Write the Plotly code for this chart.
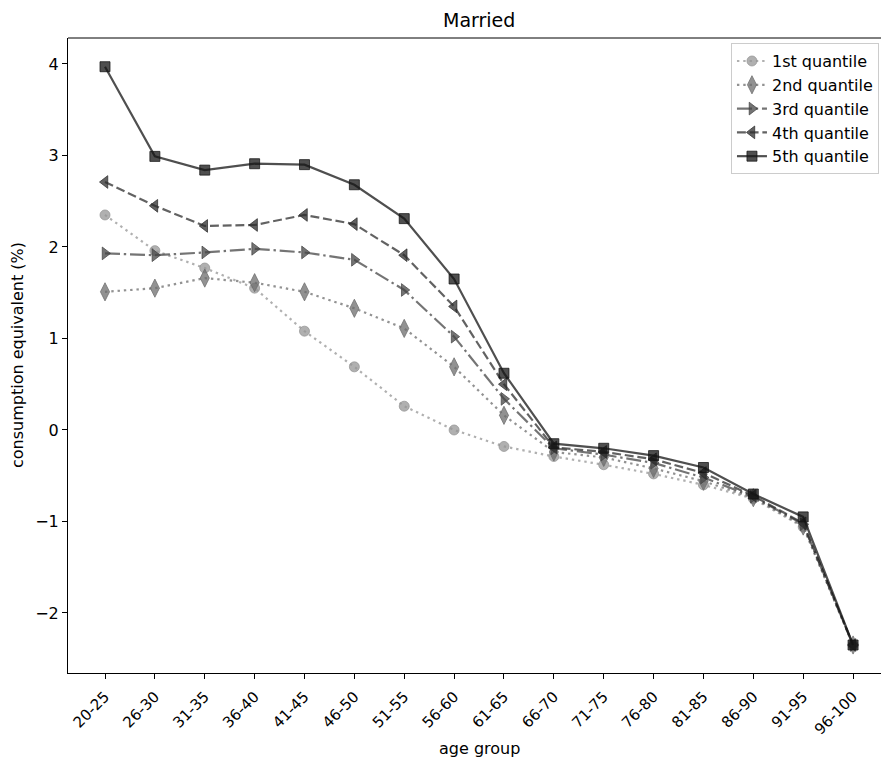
import plotly.graph_objects as go

# Age groups on the x axis
age_groups = ["20-25", "26-30", "31-35", "36-40", "41-45", "46-50", "51-55", "56-60",
              "61-65", "66-70", "71-75", "76-80", "81-85", "86-90", "91-95", "96-100"]

# Consumption equivalent (%) by income quantile
q1 = [2.35, 1.96, 1.77, 1.55, 1.08, 0.69, 0.26, 0.00, -0.18, -0.29, -0.38, -0.48, -0.60, -0.75, -1.06, -2.35]
q2 = [1.51, 1.55, 1.66, 1.61, 1.51, 1.33, 1.11, 0.69, 0.16, -0.24, -0.30, -0.42, -0.56, -0.74, -1.05, -2.35]
q3 = [1.93, 1.91, 1.94, 1.98, 1.94, 1.86, 1.53, 1.02, 0.34, -0.20, -0.27, -0.36, -0.52, -0.73, -1.03, -2.35]
q4 = [2.71, 2.45, 2.23, 2.24, 2.35, 2.25, 1.91, 1.35, 0.50, -0.19, -0.24, -0.32, -0.47, -0.72, -1.02, -2.35]
q5 = [3.97, 2.99, 2.84, 2.91, 2.90, 2.68, 2.31, 1.65, 0.62, -0.15, -0.20, -0.28, -0.41, -0.70, -0.95, -2.35]

series_names = ["1st quantile", "2nd quantile", "3rd quantile", "4th quantile", "5th quantile"]
series_values = [q1, q2, q3, q4, q5]

styles = [
    dict(color="rgba(150,150,150,0.75)", dash="2.4px,3.9px", symbol="circle", size=10),
    dict(color="rgba(110,110,110,0.75)", dash="2.4px,3.9px", symbol="diamond-tall", size=13),
    dict(color="rgba(70,70,70,0.75)", dash="15px,3.8px,2.4px,3.8px", symbol="triangle-right", size=11),
    dict(color="rgba(45,45,45,0.75)", dash="8.9px,3.8px", symbol="triangle-left", size=11),
    dict(color="rgba(20,20,20,0.75)", dash="solid", symbol="square", size=10),
]

x_idx = list(range(len(age_groups)))
FONT = "DejaVu Sans"

fig = go.Figure()
for i, (name, vals, st) in enumerate(zip(series_names, series_values, styles)):
    fig.add_trace(go.Scatter(
        x=x_idx, y=vals, name=name, mode="lines+markers", legendgroup=f"g{i}",
        line=dict(color=st["color"], width=2.2, dash=st["dash"]),
        marker=dict(symbol=st["symbol"], size=st["size"], color=st["color"],
                    line=dict(color=st["color"], width=1)),
    ))

W, H = 881, 761
L, R, T, B = 68, 0, 38, 88
CX = (479 - L) / (W - L - R)  # horizontal centre of the full axes box

fig.update_layout(
    width=W, height=H,
    margin=dict(l=L, r=R, t=T, b=B),
    paper_bgcolor="white", plot_bgcolor="white",
    font=dict(family=FONT, size=16, color="black"),
    showlegend=True,
    legend=dict(x=0.9975, xanchor="right", y=0.992, yanchor="top",
                bgcolor="rgba(255,255,255,0.8)", bordercolor="#cccccc", borderwidth=1,
                font=dict(family=FONT, size=16, color="black"),
                tracegroupgap=0, itemwidth=30),
    xaxis=dict(
        range=[-0.742, 15.56], tickmode="array", tickvals=x_idx, ticktext=age_groups,
        tickangle=-45, ticks="outside", ticklen=5, tickcolor="black",
        ticklabelstandoff=3,
        showline=True, linecolor="black", linewidth=1, mirror=False,
        showgrid=False, zeroline=False,
        tickfont=dict(family=FONT, size=15, color="black"),
    ),
    yaxis=dict(
        range=[-2.656, 4.284], tickmode="array", tickvals=[-2, -1, 0, 1, 2, 3, 4],
        ticktext=["\u22122", "\u22121", "0", "1", "2", "3", "4"],
        ticks="outside", ticklen=5, tickcolor="black",
        showline=True, linecolor="black", linewidth=1,
        showgrid=False, zeroline=False,
        tickfont=dict(family=FONT, size=16, color="black"),
    ),
    shapes=[dict(type="line", xref="paper", yref="paper", x0=0, x1=1, y0=1, y1=1,
                 line=dict(color="black", width=1))],
    annotations=[
        dict(text="Married", xref="paper", yref="paper",
             x=CX, y=1, yshift=18, showarrow=False,
             xanchor="center", yanchor="middle", font=dict(family=FONT, size=19, color="black")),
        dict(text="age group", xref="paper", yref="paper",
             x=CX, y=0, yshift=-(748 - (H - B)), showarrow=False,
             xanchor="center", yanchor="middle", font=dict(family=FONT, size=16, color="black")),
        dict(text="consumption equivalent (%)", xref="paper", yref="paper",
             x=0, xshift=-(L - 17), y=(H - B - 355) / (H - T - B),
             showarrow=False, textangle=-90, xanchor="center", yanchor="middle",
             font=dict(family=FONT, size=16, color="black")),
    ],
)

fig.write_html("out.html")
